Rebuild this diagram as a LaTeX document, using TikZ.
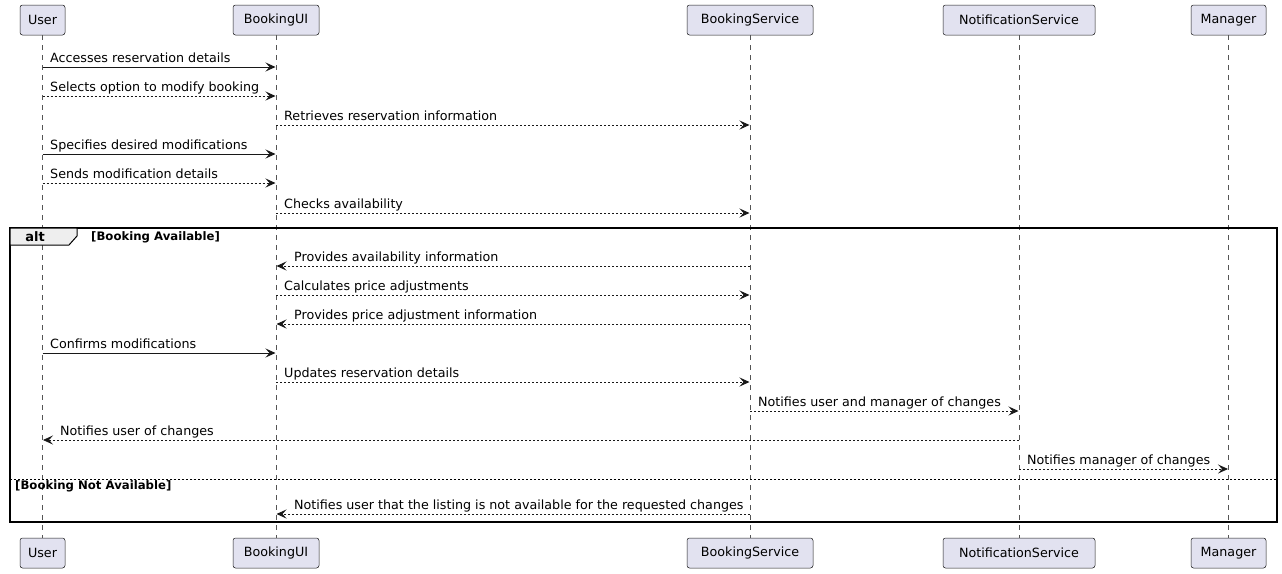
\documentclass[tikz,border=0pt]{standalone}
\usepackage{fontspec}
\setmainfont{DejaVu Sans}
\usetikzlibrary{arrows.meta}
\definecolor{linec}{HTML}{181818}
\definecolor{lifec}{HTML}{555555}
\definecolor{partfill}{HTML}{E2E2F0}
\definecolor{tabfill}{HTML}{EEEEEE}
\begin{document}
\begin{tikzpicture}[x=1pt,y=-1pt,
 part/.style={draw=linec, fill=partfill, rounded corners=2.5pt, minimum height=30pt, inner sep=0pt, font=\fontsize{12.7}{15}\selectfont, line width=0.5pt},
 life/.style={draw=lifec, dash pattern=on 5pt off 5pt, line width=0.5pt},
 sync/.style={draw=linec, -{Stealth[length=10pt,width=9pt,inset=4pt]}, line width=0.8pt, shorten >=0.5pt},
 async/.style={sync, dash pattern=on 2pt off 2pt},
 lbl/.style={font=\fontsize{12.7}{15}\selectfont, inner sep=0pt, anchor=base west},
 glbl/.style={font=\fontsize{11.7}{13}\selectfont\bfseries, inner sep=0pt, anchor=base west}
]
\useasboundingbox (0,0) rectangle (1282,573);
% participants
\node[part, minimum width=45pt] (uT) at (42.5,20) {User};
\node[part, minimum width=86pt] (iT) at (276,20) {BookingUI};
\node[part, minimum width=126pt] (sT) at (750,20) {BookingService};
\node[part, minimum width=152pt] (nT) at (1019,20) {NotificationService};
\node[part, minimum width=75pt] (mT) at (1228.5,20) {Manager};
\node[part, minimum width=45pt] (uB) at (42.5,553) {User};
\node[part, minimum width=86pt] (iB) at (276,553) {BookingUI};
\node[part, minimum width=126pt] (sB) at (750,553) {BookingService};
\node[part, minimum width=152pt] (nB) at (1019,553) {NotificationService};
\node[part, minimum width=75pt] (mB) at (1228.5,553) {Manager};
% lifelines
\draw[life] (uT.south) -- (uB.north);
\draw[life] (iT.south) -- (iB.north);
\draw[life] (sT.south) -- (sB.north);
\draw[life] (nT.south) -- (nB.north);
\draw[life] (mT.south) -- (mB.north);
% alt frame
\draw[line width=1.5pt, draw=black] (10,228) rectangle (1277,522);
\draw[line width=1pt, draw=black, fill=tabfill] (10,228) -- (77,228) -- (77,236) -- (69,245) -- (10,245) -- cycle;
\node[font=\fontsize{13}{15}\selectfont\bfseries, inner sep=0pt, anchor=base] (altl) at (35,241) {alt};
\node[glbl] (g1) at (91,240) {[Booking Available]};
\draw[draw=black, dash pattern=on 2pt off 2pt, line width=0.8pt] (10,479) -- (1277,479);
\node[glbl] (g2) at (15,489) {[Booking Not Available]};
% messages
\draw[sync] (uT |- 0,67) -- (iT |- 0,67);
\node[lbl] (m1) at (50,62) {Accesses reservation details};
\draw[async] (uT |- 0,96) -- (iT |- 0,96);
\node[lbl] (m2) at (50,91) {Selects option to modify booking};
\draw[async] (iT |- 0,125) -- (sT |- 0,125);
\node[lbl] (m3) at (284,120) {Retrieves reservation information};
\draw[sync] (uT |- 0,154) -- (iT |- 0,154);
\node[lbl] (m4) at (50,149) {Specifies desired modifications};
\draw[async] (uT |- 0,183) -- (iT |- 0,183);
\node[lbl] (m5) at (50,178) {Sends modification details};
\draw[async] (iT |- 0,213) -- (sT |- 0,213);
\node[lbl] (m6) at (284,208) {Checks availability};
\draw[async] (sT |- 0,266) -- (iT |- 0,266);
\node[lbl] (m7) at (294,261) {Provides availability information};
\draw[async] (iT |- 0,295) -- (sT |- 0,295);
\node[lbl] (m8) at (284,290) {Calculates price adjustments};
\draw[async] (sT |- 0,324) -- (iT |- 0,324);
\node[lbl] (m9) at (294,319) {Provides price adjustment information};
\draw[sync] (uT |- 0,353) -- (iT |- 0,353);
\node[lbl] (m10) at (50,348) {Confirms modifications};
\draw[async] (iT |- 0,382) -- (sT |- 0,382);
\node[lbl] (m11) at (284,377) {Updates reservation details};
\draw[async] (sT |- 0,411) -- (nT |- 0,411);
\node[lbl] (m12) at (758,406) {Notifies user and manager of changes};
\draw[async] (nT |- 0,440) -- (uT |- 0,440);
\node[lbl] (m13) at (60,435) {Notifies user of changes};
\draw[async] (nT |- 0,469) -- (mT |- 0,469);
\node[lbl] (m14) at (1027,464) {Notifies manager of changes};
\draw[async] (sT |- 0,514) -- (iT |- 0,514);
\node[lbl] (m15) at (294,509) {Notifies user that the listing is not available for the requested changes};
\end{tikzpicture}
\end{document}
